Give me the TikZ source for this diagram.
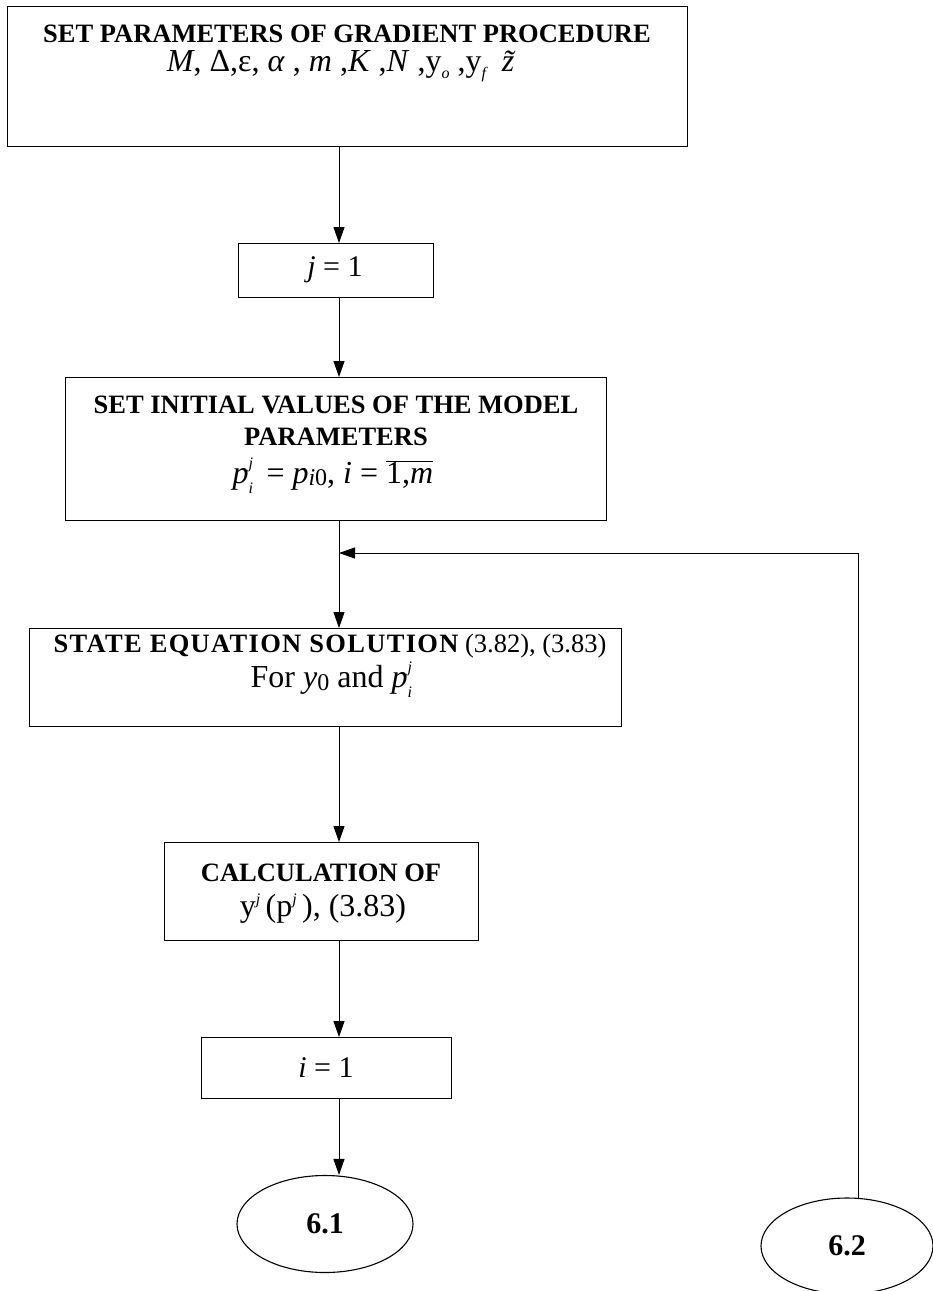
\documentclass[tikz,border=0pt]{standalone}
\usepackage{fontspec}
\setmainfont{Liberation Serif}
\usetikzlibrary{arrows.meta,shapes.geometric}

% text sizes used in the chart
\newcommand\mainsz{\fontsize{26.5}{32}\selectfont}
\newcommand\bigsz{\fontsize{30}{34}\selectfont}
\newcommand\mathsz{\fontsize{32}{36}\selectfont}
\newcommand\scr{\fontsize{16}{16}\selectfont}
% stacked super/subscript after a letter
\newcommand\supsub[2]{\rlap{\raisebox{15pt}{\scr\itshape #1}}\raisebox{-10pt}{\scr\itshape #2}\,}
\newcommand\supi[1]{\raisebox{12pt}{\scr\itshape #1}}
\newcommand\subi[1]{\raisebox{-7pt}{\scr\itshape #1}}

\begin{document}
\begin{tikzpicture}[x=1pt,y=-1pt,
  box/.style={draw,line width=1.1pt,rectangle,inner sep=0pt,anchor=north west},
  oval/.style={draw,line width=1.1pt,ellipse,inner sep=0pt,font=\bigsz\bfseries},
  txt/.style={inner sep=0pt,align=center,font=\mainsz},
  formula/.style={inner sep=0pt,align=center,font=\mathsz},
  flow/.style={line width=1pt,-{Triangle[length=16pt,width=11pt]}}]
\useasboundingbox (0,0) rectangle (933,1291);
\fill[white] (0,0) rectangle (933,1291);

% boxes
\node[box,minimum width=680pt,minimum height=140pt] (b1) at (7,6) {};
\node[box,minimum width=195pt,minimum height=54pt]  (b2) at (238,243) {};
\node[box,minimum width=541pt,minimum height=143pt] (b3) at (65,377) {};
\node[box,minimum width=592pt,minimum height=98pt]  (b4) at (29,628) {};
\node[box,minimum width=314pt,minimum height=98pt]  (b5) at (164,842) {};
\node[box,minimum width=250pt,minimum height=61pt]  (b6) at (201,1037) {};

% terminals
\node[oval,minimum width=176pt,minimum height=97pt] (e1) at (325,1224) {6.1};
\node[oval,minimum width=172pt,minimum height=96pt] (e2) at (847,1246) {6.2};

% box texts
\node[txt] (t1a) at (347,34) {\bfseries SET PARAMETERS OF GRADIENT PROCEDURE};
\node[formula] (t1b) at (347,66) {\textit{M}, Δ,ε, \textit{α}\ , \textit{m}\ ,\textit{K}\ ,\textit{N}\ ,y\subi{o}\ ,y\subi{f}\ \ \textit{\~{z}}};
\node[txt,font=\bigsz] (t2) at (335,270) {\textit{j} = 1};
\node[txt] (t3a) at (336,405) {\bfseries SET INITIAL VALUES OF THE MODEL};
\node[txt] (t3b) at (336,437) {\bfseries PARAMETERS};
\node[formula] (t3c) at (333,476) {\textit{p}\supsub{j}{i}\ = \textit{p}\raisebox{-2pt}{\fontsize{24}{24}\selectfont\textit{i}0}, \textit{i} = $\overline{\hbox{1,\textit{m}}}$};
\node[txt] (t4a) at (330,646) {{\bfseries\addfontfeature{LetterSpace=5}STATE EQUATION SOLUTION} (3.82), (3.83)};
\node[formula] (t4b) at (334,680) {For \textit{y}\raisebox{-3pt}{\fontsize{24}{24}\selectfont 0} and \textit{p}\supsub{j}{i}};
\node[txt] (t5a) at (321,873) {\bfseries CALCULATION OF};
\node[formula] (t5b) at (323,909) {y\supi{j}\,(p\supi{j}\,), (3.83)};
\node[txt,font=\bigsz] (t6) at (326,1068) {\textit{i} = 1};

% connector guides
\coordinate (spine) at (339,0);
\coordinate (join) at (339,553);

% main flow
\draw[flow] (b1.south -| spine) -- (b2.north -| spine);
\draw[flow] (b2.south -| spine) -- (b3.north -| spine);
\draw[flow] (b3.south -| spine) -- (b4.north -| spine);
\draw[flow] (b4.south -| spine) -- (b5.north -| spine);
\draw[flow] (b5.south -| spine) -- (b6.north -| spine);
\draw[flow] (b6.south -| spine) -- (e1.north -| spine);

% feedback loop from 6.2
\draw[flow] (e2.76) |- (join);
\end{tikzpicture}
\end{document}
